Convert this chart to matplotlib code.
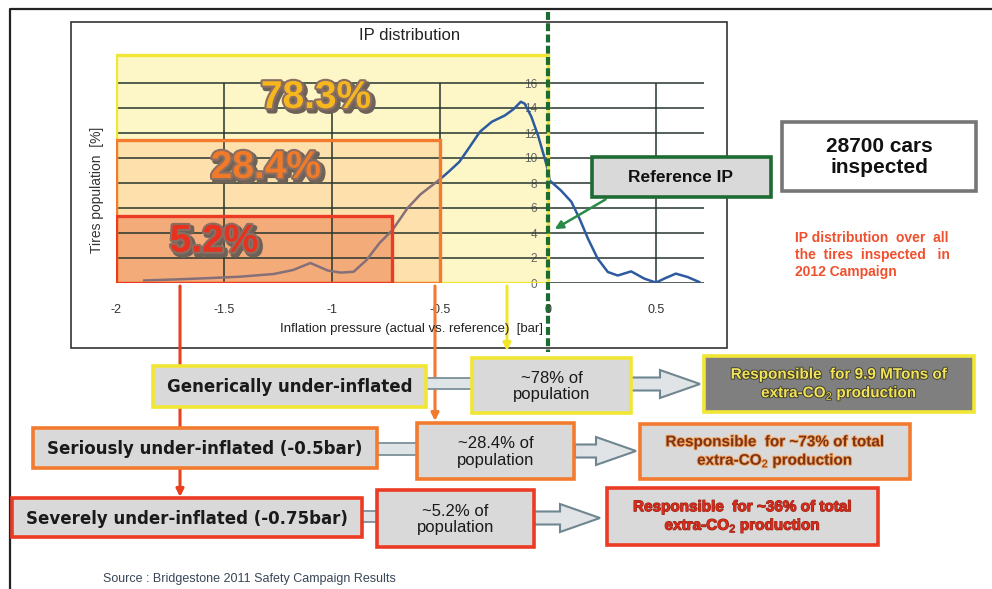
import matplotlib
matplotlib.use("Agg")
import matplotlib.pyplot as plt
import matplotlib.patheffects as pe
from matplotlib.patches import Rectangle, FancyArrow

plt.rcParams['font.family'] = ['Liberation Sans', 'DejaVu Sans']
plt.rcParams['mathtext.fontset'] = 'custom'
plt.rcParams['mathtext.rm'] = 'Liberation Sans'
plt.rcParams['mathtext.bf'] = 'Liberation Sans:bold'

# --- data ---
ip_x = [-1.87, -1.70, -1.56, -1.43, -1.27, -1.18, -1.10, -1.02, -0.96, -0.90,
        -0.84, -0.78, -0.72, -0.65, -0.59, -0.53, -0.50, -0.46, -0.41, -0.37,
        -0.315, -0.26, -0.20, -0.16, -0.126, -0.108, -0.077, -0.046, -0.015, 0.0,
        0.008, 0.06, 0.108, 0.146, 0.185, 0.23, 0.277, 0.323, 0.385, 0.446,
        0.5, 0.538, 0.592, 0.646, 0.70]
ip_y = [0.2, 0.3, 0.4, 0.5, 0.72, 1.04, 1.6, 1.0, 0.83, 0.9,
        1.84, 3.2, 4.24, 6.0, 7.1, 7.9, 8.3, 8.9, 9.7, 10.7,
        12.1, 12.9, 13.4, 13.9, 14.5, 14.35, 13.3, 11.8, 9.95, 9.0,
        8.2, 7.4, 6.5, 5.15, 3.55, 1.95, 0.88, 0.6, 0.93, 0.35,
        0.03, 0.35, 0.75, 0.48, 0.08]

x_ticks = [-2, -1.5, -1, -0.5, 0, 0.5]
x_tick_labels = ['-2', '-1.5', '-1', '-0.5', '0', '0.5']
y_ticks = [0, 2, 4, 6, 8, 10, 12, 14, 16]

share_labels = ['78.3%', '28.4%', '5.2%']
share_limit = [0, -0.5, -0.72]        # bar, right edge of each band
share_top = [18.24, 11.44, 5.36]      # % population height of each band

row_labels = ['Generically under-inflated',
              'Seriously under-inflated (-0.5bar)',
              'Severely under-inflated (-0.75bar)']
pop_labels = ['~78% of\npopulation', '~28.4% of\npopulation', '~5.2% of\npopulation']
resp_labels = ['Responsible  for 9.9 MTons of\nextra-CO$_2$ production',
               'Responsible  for ~73% of total\nextra-CO$_2$ production',
               'Responsible  for ~36% of total\nextra-CO$_2$ production']

# --- styles ---
band_fill = ['#fdf7c8', '#fde0ab', '#f4ab7a']
band_edge = ['#f0e633', '#f27b2f', '#ec3b25']
pct_color = ['#f6b61e', '#f07a28', '#e8321f']
pct_pos = [(-1.074, 14.8), (-1.306, 9.2), (-1.546, 3.3)]

W, H = 992, 589
fig = plt.figure(figsize=(W / 100, H / 100), dpi=100)
fig.patch.set_facecolor('white')

bg = fig.add_axes([0, 0, 1, 1], zorder=0)
bg.set_xlim(0, W); bg.set_ylim(H, 0); bg.axis('off')
fg = fig.add_axes([0, 0, 1, 1], zorder=2)
fg.set_xlim(0, W); fg.set_ylim(H, 0); fg.axis('off')
fg.patch.set_alpha(0)

# outer border and chart frame
bg.plot([10, 10, W], [H, 9, 9], color='#222222', lw=1.6)
bg.add_patch(Rectangle((71, 22), 656, 326, fc='white', ec='#333333', lw=1.2))
bg.text(410, 36, 'IP distribution', ha='center', va='center', fontsize=12, color='#222222')

# chart axes: x=-2 at 116px, 0 at 548px; y=0 at 283px, 12.5px per %
ax = fig.add_axes([116 / W, 1 - 283 / H, 2.76 * 216 / W, 18.5 * 12.5 / H], zorder=1)
ax.patch.set_alpha(0)
ax.set_xlim(-2, 0.76)
ax.set_ylim(0, 18.5)
for s in ax.spines.values():
    s.set_visible(False)

for i in range(3):
    ax.add_patch(Rectangle((-2, 0), share_limit[i] + 2, share_top[i],
                           fc=band_fill[i], ec='none', zorder=1 + i * 0.1))
    ax.add_patch(Rectangle((-2, 0), share_limit[i] + 2, share_top[i],
                           fill=False, ec=band_edge[i], lw=2.4, zorder=4 + i * 0.1))

ax.hlines(y_ticks, -2, 0.72, color='#26352c', lw=1.1, zorder=2)
ax.vlines([-1.5, -1, -0.5, 0.5], 0, 16, color='#26352c', lw=1.1, zorder=2)

k = ip_x.index(-0.50) + 1
ax.plot(ip_x[:k], ip_y[:k], color='#857078', lw=1.8, zorder=3)
ax.plot(ip_x[k - 1:], ip_y[k - 1:], color='#2e5aa0', lw=1.8, zorder=3)

ax.set_xticks(x_ticks)
ax.set_xticklabels(x_tick_labels)
ax.tick_params(axis='x', length=0, pad=15, labelsize=9, labelcolor='#333333')
ax.spines['left'].set_position(('data', 0))
ax.set_yticks(y_ticks)
ax.tick_params(axis='y', length=0, pad=8, labelsize=8.5, labelcolor='#666666')

for i in range(3):
    ax.text(pct_pos[i][0], pct_pos[i][1], share_labels[i], ha='center', va='center',
            fontsize=28, fontweight='bold', color=pct_color[i], zorder=6,
            path_effects=[pe.Stroke(linewidth=4, foreground='#6e6258', offset=(2, -2)),
                          pe.Stroke(linewidth=3, foreground='#8a6e62'), pe.Normal()])

fg.text(97, 190, 'Tires population  [%]', rotation=90, ha='center', va='center',
        fontsize=10, color='#333333')
fg.text(412, 329, 'Inflation pressure (actual vs. reference)  [bar]', ha='center',
        va='center', fontsize=9.5, color='#222222')

# reference line and callout
fg.plot([548, 548], [12, 352], color='#1c6b30', lw=3, ls=(0, (1.9, 0.8)), zorder=5)
fg.add_patch(Rectangle((592, 157), 179, 40, fc='#d9d9d9', ec='#1e6b34', lw=2.6, zorder=6))
fg.text(681, 178, 'Reference IP', ha='center', va='center', fontsize=12.5,
        fontweight='bold', color='#111111', zorder=7)
ax.annotate('', xy=(0.02, 4.2), xycoords='data', xytext=(608, 198), textcoords=fg.transData,
            arrowprops=dict(arrowstyle='-|>', color='#2a8a4a', lw=1.8, mutation_scale=12),
            zorder=7)

fg.add_patch(Rectangle((782, 122), 194, 69, fc='white', ec='#767676', lw=2.6))
fg.text(879, 157, '28700 cars\ninspected', ha='center', va='center', fontsize=15,
        fontweight='bold', color='#111111', linespacing=1.15)
fg.text(795, 255, 'IP distribution  over  all\nthe  tires  inspected   in\n2012 Campaign',
        ha='left', va='center', fontsize=10, fontweight='bold', color='#f0502e',
        linespacing=1.3)

# vertical connectors from the bands to the flow chart
for x0, y1, col in [(180, 497, '#e8401f'), (435, 421, '#f07a30'), (507, 351, '#f2e62c')]:
    fg.annotate('', xy=(x0, y1), xytext=(x0, 286),
                arrowprops=dict(arrowstyle='-|>', color=col, lw=2.2, mutation_scale=11,
                                shrinkA=0, shrinkB=0), zorder=1)

# flow chart
row_box = [(153, 366, 273, 41), (33, 428, 344, 40), (12, 498, 350, 39)]
pop_box = [(472, 358, 159, 55), (417, 423, 157, 56), (377, 490, 157, 57)]
resp_box = [(704, 356, 270, 56), (640, 424, 270, 55), (607, 488, 271, 57)]
link = [(426, 378, 46, 11), (377, 443, 40, 12), (362, 511, 15, 11)]
arrows = [(631, 384, 69), (575, 451, 61), (534, 518, 66)]
resp_fill = ['#7f7f7f', '#d9d9d9', '#d9d9d9']
resp_text = ['#f3e35a', '#7c3418', '#dc2a1a']
resp_glow = ['#3e3e2a', '#f4a35c', '#8a2416']
resp_glow_w = [1.3, 1.3, 0.8]

for i in range(3):
    ec = band_edge[i]
    fg.add_patch(Rectangle(link[i][:2], link[i][2], link[i][3], fc='#dfe4e6', ec='#7d9098',
                           lw=1.3, zorder=2))
    x, y, w, h = row_box[i]
    fg.add_patch(Rectangle((x, y), w, h, fc='#d9d9d9', ec=ec, lw=2.6, zorder=3))
    fg.text(x + w / 2, y + h / 2 + 1, row_labels[i], ha='center', va='center',
            family='DejaVu Sans', fontsize=12, fontweight='bold', color='#1a1a1a', zorder=4)
    x, y, w, h = pop_box[i]
    fg.add_patch(Rectangle((x, y), w, h, fc='#d9d9d9', ec=ec, lw=2.6, zorder=3))
    fg.text(x + w / 2, y + h / 2 + 1, pop_labels[i], ha='center', va='center',
            fontsize=12, color='#1a1a1a', linespacing=1.1, zorder=4)
    ax_, ay, al = arrows[i]
    fg.add_patch(FancyArrow(ax_, ay, al, 0, width=13, head_width=28, head_length=40,
                            length_includes_head=True, fc='#e0e4e6', ec='#6f8690', lw=1.5,
                            zorder=2))
    x, y, w, h = resp_box[i]
    fg.add_patch(Rectangle((x, y), w, h, fc=resp_fill[i], ec=ec, lw=2.6, zorder=3))
    fg.text(x + w / 2, y + h / 2 + 1, resp_labels[i], ha='center', va='center',
            fontsize=11, fontweight='bold', color=resp_text[i], linespacing=1.2, zorder=4,
            path_effects=[pe.withStroke(linewidth=resp_glow_w[i], foreground=resp_glow[i])])

fg.text(103, 579, 'Source : Bridgestone 2011 Safety Campaign Results', ha='left',
        va='center', fontsize=9, color='#3a4656')

fig.savefig('out.png', dpi=100, facecolor='white')
